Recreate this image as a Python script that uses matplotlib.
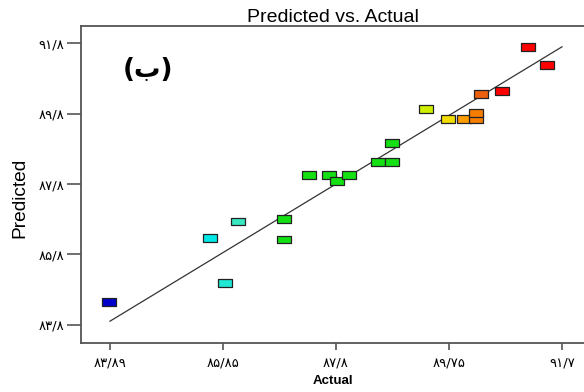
import matplotlib.pyplot as plt
import numpy as np
from matplotlib.colors import LinearSegmentedColormap, Normalize

# data (Actual, Predicted)
actual = [83.89, 85.63, 86.11, 85.88, 86.91, 86.91, 87.34, 87.68, 87.82, 88.02,
          88.53, 88.77, 88.77, 89.35, 89.74, 90.01, 90.22, 90.22, 90.30, 90.67,
          91.11, 91.44]
predicted = [84.45, 86.26, 86.73, 84.98, 86.81, 86.22, 88.06, 88.06, 87.88, 88.06,
             88.43, 88.43, 88.97, 89.93, 89.64, 89.64, 89.64, 89.82, 90.35, 90.45,
             91.70, 91.18]

x_ticks = [83.9, 85.85, 87.8, 89.75, 91.7]
x_labels = ['۸۳/۸۹', '۸۵/۸۵', '۸۷/۸', '۸۹/۷۵', '۹۱/۷']
y_ticks = [83.8, 85.8, 87.8, 89.8, 91.8]
y_labels = ['۸۳/۸', '۸۵/۸', '۸۷/۸', '۸۹/۸', '۹۱/۸']

plt.rcParams['font.family'] = ['Liberation Sans', 'DejaVu Sans']

fig = plt.figure(figsize=(5.84, 3.92), dpi=100)
ax = fig.add_axes([0.1387, 0.125, 0.8613, 0.8094])

# colour scale along the actual value (blue -> cyan -> green -> yellow -> red)
lo, hi = min(actual), max(actual)
cmap = LinearSegmentedColormap.from_list('de', [
    (0.0, '#0000cc'), (0.2255, '#00e8e8'), (0.2918, '#38e8c4'),
    (0.398, '#14e014'), (0.650, '#14e014'), (0.723, '#cef000'),
    (0.7745, '#f2e000'), (0.809, '#ffa000'), (0.838, '#f58000'),
    (0.849, '#ea6410'), (0.898, '#ff0000'), (1.0, '#ff0000')])
norm = Normalize(lo, hi)

# rectangle marker
rect = [(-1, -0.55), (1, -0.55), (1, 0.55), (-1, 0.55), (-1, -0.55)]

# 45 degree line
ax.plot([x_ticks[0], x_ticks[-1]], [x_ticks[0], x_ticks[-1]], color='#333333', lw=0.9, zorder=2)
ax.scatter(actual, predicted, c=actual, cmap=cmap, norm=norm, marker=rect, s=100,
           edgecolors='#222222', linewidths=0.9, zorder=3)

ax.set_xlim(83.40, 92.08)
ax.set_ylim(83.28, 92.30)

ax.set_xticks(x_ticks)
ax.set_xticklabels(x_labels, family=['DejaVu Sans'], fontsize=9.5)
ax.set_yticks(y_ticks)
ax.set_yticklabels(y_labels, family=['DejaVu Sans'], fontsize=9.5)
ax.tick_params(axis='y', direction='out', length=10, width=1.2, color='#555555', pad=2)
ax.tick_params(axis='x', direction='out', length=5, width=1.2, color='#555555', pad=5)

for s in ['left', 'bottom', 'top']:
    ax.spines[s].set_color('#555555')
    ax.spines[s].set_linewidth(1.3)
ax.spines['right'].set_visible(False)

ax.set_title('Predicted vs. Actual', fontsize=14, pad=3)
ax.set_xlabel('Actual', fontsize=9.5, fontweight='bold', labelpad=4)
fig.text(19.5 / 584, 1 - 197.5 / 392, 'Predicted', rotation=90, fontsize=13.8,
         ha='center', va='center')

fig.text(148 / 584, 1 - 70 / 392, '(ب)', fontsize=19, fontweight='bold',
         family=['DejaVu Sans'], ha='center', va='center')

fig.savefig('out.png', dpi=100)
